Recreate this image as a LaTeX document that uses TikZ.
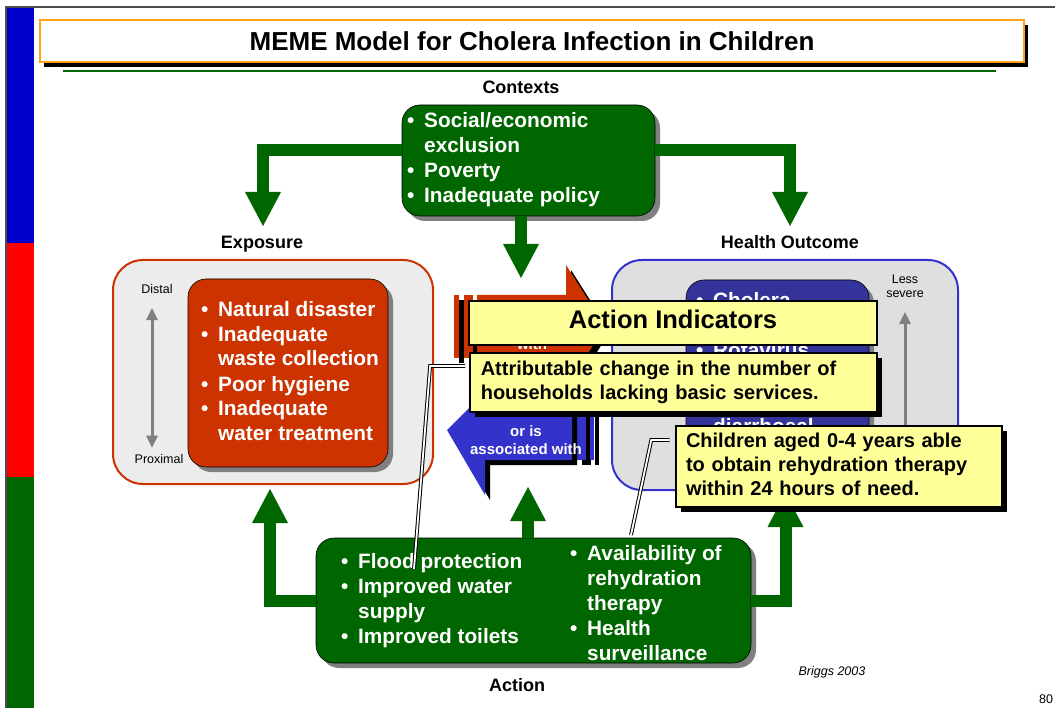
\documentclass[tikz,border=0pt]{standalone}
\usepackage{fontspec}
\setmainfont{Liberation Sans}
\usetikzlibrary{positioning,calc,arrows.meta,shadows}
\definecolor{grn}{HTML}{006600}
\definecolor{rust}{HTML}{CC3300}
\definecolor{royal}{HTML}{3333CC}
\definecolor{navy}{HTML}{333399}
\definecolor{pale}{HTML}{FFFF99}
\definecolor{amber}{HTML}{FFA31A}
\definecolor{barblue}{HTML}{0000CC}
\definecolor{barred}{HTML}{FF0000}
\newcommand{\bitem}[1]{\strut\makebox[17pt][l]{\textbullet}#1}
\newcommand{\bcont}[1]{\strut\hspace*{17pt}#1}

\begin{document}
\begin{tikzpicture}[x=1pt,y=-1pt,
    big/.style={font=\fontsize{20.8}{25}\selectfont\bfseries},
    lbl/.style={font=\fontsize{18}{20}\selectfont\bfseries,anchor=base},
    small/.style={font=\fontsize{12.5}{14.4}\selectfont},
    inbox/.style={draw=black,line width=0.6pt,rounded corners=18pt,
      drop shadow={fill=gray,opacity=1,shadow xshift=5pt,shadow yshift=-5pt}},
    outbox/.style={line width=2pt,rounded corners=30pt},
    wtxt/.style={big,text=white,align=left,anchor=west,inner sep=0pt},
    yellowbox/.style={draw=black,line width=1.4pt,fill=pale,align=left,
      font=\fontsize{20}{24}\selectfont\bfseries},
    blk/.style={drop shadow={fill=black,opacity=1,shadow xshift=5pt,shadow yshift=-5pt}},
    btip/.tip={Triangle[width=36pt,length=34pt,line width=0pt]},
    gtip/.tip={Triangle[width=12pt,length=12pt,line width=0pt]},
    thick arrow/.style={draw=grn,line width=12pt,-btip},
    callout/.style={draw=black,line width=1pt,double=white,double distance=1.8pt}]

\useasboundingbox (0,0) rectangle (1055,708);
\foreach \c/\a/\b in {barblue/7/243,barred/243/477,grn/477/708}
  \fill[\c] (7,\a) rectangle (34,\b);
\draw[gray!60!black,line width=1.2pt] (6,708) -- (6,7) -- (1055,7);

\node[draw=amber,line width=1.5pt,fill=white,minimum width=984pt,minimum height=42pt,
  drop shadow={fill=black,opacity=1,shadow xshift=4pt,shadow yshift=-5pt},
  font=\fontsize{26}{30}\selectfont\bfseries] (title) at (532,41) {MEME Model for Cholera Infection in Children};
\draw[grn,line width=2pt] (63,71.5) -- (996,71.5);

\node[lbl] (ctxlbl) at (521,93.5) {Contexts};
\node[lbl] (explbl) at (262,248.5) {Exposure};
\node[lbl] (outlbl) at (790,248.5) {Health Outcome};
\node[lbl] (actlbl) at (517,691.5) {Action};
\node[font=\fontsize{12.5}{15}\selectfont\itshape,anchor=base] (src) at (832,675) {Briggs 2003};
\node[small,anchor=base] (pgno) at (1046,703) {80};

\node[outbox,draw=rust,fill=gray!15,minimum width=320pt,minimum height=224pt] (expo) at (273,372) {};
\node[inbox,fill=rust,minimum width=200pt,minimum height=188pt] (expin) at (288,373) {};
\node[wtxt] (exptxt) at (201,373.5) {\bitem{Natural disaster}\\ \bitem{Inadequate}\\ \bcont{waste collection}\\
  \bitem{Poor hygiene}\\ \bitem{Inadequate}\\ \bcont{water treatment}};
\node[small,anchor=base] (distal) at (157,294) {Distal};
\node[small,anchor=base] (proximal) at (159,463) {Proximal};
\draw[gray,line width=3pt,gtip-gtip] ([xshift=-5pt,yshift=-10.5pt]distal.south) -- ([xshift=-7pt,yshift=2.7pt]proximal.north);

\node[outbox,draw=royal,fill=gray!25,minimum width=346pt,minimum height=230pt] (outc) at (785,375) {};
\node[inbox,fill=navy,minimum width=183pt,minimum height=187pt] (outin) at (777.5,373.5) {};
\node[big,text=white,anchor=base west,inner sep=0pt] (chol) at (696,308) {\bitem{Cholera}};
\node[big,text=white,anchor=base west,inner sep=0pt] (rota) at (696,358) {\bitem{Rotavirus}};
\node[big,text=white,anchor=base west,inner sep=0pt] (diarr) at (713,433) {diarrhoeal};
\node[small,align=center] (less) at (905,286) {Less\\severe};
\coordinate (sevbot) at (905,470);
\draw[gray,line width=3pt,-gtip] (sevbot) -- ([yshift=-11pt]less.south);

\node[inbox,fill=grn,minimum width=253pt,minimum height=111pt] (ctx) at (528.5,160.5) {};
\node[wtxt] (ctxtxt) at (407,160.5) {\bitem{Social/economic}\\ \bcont{exclusion}\\ \bitem{Poverty}\\ \bitem{Inadequate policy}};

\node[inbox,fill=grn,minimum width=435pt,minimum height=125pt] (act) at (533.5,600.5) {};
\node[wtxt] (actl) at (341,600.5) {\bitem{Flood protection}\\ \bitem{Improved water}\\ \bcont{supply}\\ \bitem{Improved toilets}};
\node[wtxt] (actr) at (570,605) {\bitem{Availability of}\\ \bcont{rehydration}\\ \bcont{therapy}\\ \bitem{Health}\\ \bcont{surveillance}};

\coordinate (exptip) at (263,226);
\coordinate (outtip) at (790,226);
\coordinate (midtip) at (521,278);
\coordinate (expbase) at (270,489);
\coordinate (outbase) at (785.5,493);
\coordinate (actup) at (528,487);
\draw[thick arrow] ([yshift=10.5pt]ctx.west) -| (exptip);
\draw[thick arrow] ([yshift=10.5pt]ctx.east) -| (outtip);
\draw[thick arrow] ([xshift=-7.5pt]ctx.south) -- (midtip);
\draw[thick arrow] (act.west) -| (expbase);
\draw[thick arrow] (act.east) -| (outbase);
\draw[thick arrow] ([xshift=-5.5pt]act.north) -- (actup);

\fill[rust,blk] (454,295) rectangle (459,358);
\fill[rust,blk] (464,295) rectangle (473,358);
\fill[rust,blk] (477,295) -- (566,295) -- (566,265) -- (605,326.5) -- (566,388) -- (566,358) -- (477,358) -- cycle;
\node[font=\fontsize{15}{18.3}\selectfont\bfseries,text=white,anchor=base] (with) at (532,350) {with};

\fill[royal,blk] (577,405) rectangle (586,460);
\fill[royal,blk] (590,405) rectangle (594,460);
\fill[royal,blk] (572,405) -- (485,405) -- (485,392) -- (447,430) -- (485,495) -- (485,460) -- (572,460) -- cycle;
\node[font=\fontsize{15}{18.3}\selectfont\bfseries,text=white,align=center] (assoc) at (526,440) {or is\\associated with};

\node[yellowbox,minimum width=408pt,minimum height=44pt,font=\fontsize{25.5}{30}\selectfont\bfseries,
  text height=18.6pt,text depth=8pt] (actind) at (673,323) {Action Indicators};
\node[yellowbox,blk,text width=385pt,inner xsep=11pt,minimum height=59pt] (attr) at (673.3,382.5)
  {\strut Attributable change in the number of\\ \strut households lacking basic services.};
\node[yellowbox,blk,text width=306pt,inner xsep=10pt,minimum height=81pt] (child) at (839,466.5)
  {\strut Children aged 0-4 years able\\ \strut to obtain rehydration therapy\\ \strut within 24 hours of need.};

\coordinate (floodpt) at (414,569);
\coordinate (therpt) at (631,535);
\draw[callout] ([shift={(-4pt,16.5pt)}]attr.west) -- ++(-35,0) -- (floodpt);
\draw[callout] ([shift={(-6pt,26.5pt)}]child.west) -- ++(-18,0) -- (therpt);
\end{tikzpicture}
\end{document}
